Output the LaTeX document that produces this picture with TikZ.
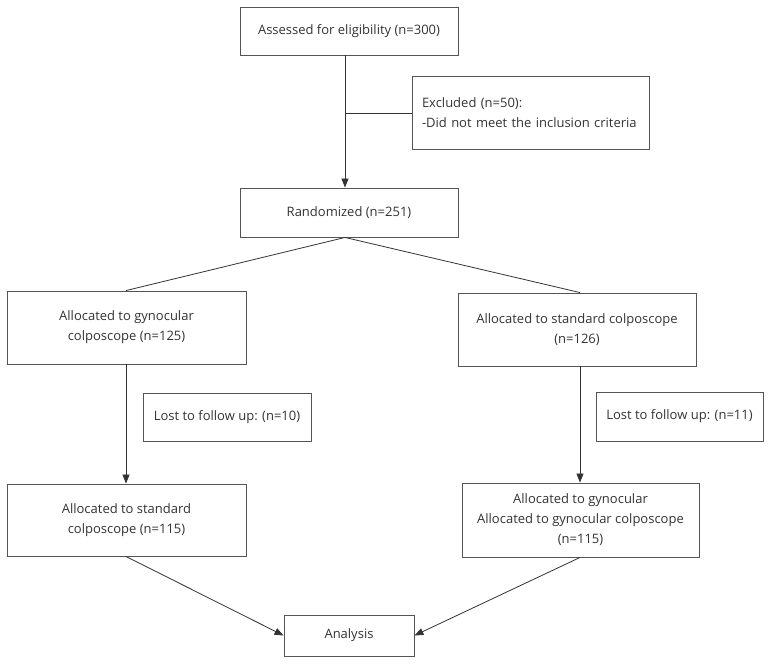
\documentclass[tikz,border=0pt]{standalone}
\usepackage{fontspec}
\setmainfont{Open Sans}
\usetikzlibrary{arrows.meta,calc}
\definecolor{txt}{HTML}{333333}
\definecolor{bord}{HTML}{555555}
\begin{document}
\begin{tikzpicture}[x=1pt,y=-1pt,
  box/.style={draw=bord,line width=0.9pt,rectangle,inner sep=0pt,text=txt,align=center,
    font=\fontsize{13}{20}\selectfont},
  conn/.style={draw=txt,line width=0.8pt},
  arr/.style={conn,-{Triangle[length=9pt,width=7pt]}}]
\useasboundingbox (0,0) rectangle (771,664);
\node[box,minimum width=218pt,minimum height=48pt] (A) at (349,31) {Assessed for eligibility (n=300)};
\node[box,minimum width=237pt,minimum height=73pt,align=left,text width=217pt] (E) at (530.5,112.5) {Excluded (n=50):\\-Did not meet the inclusion criteria};
\node[box,minimum width=218pt,minimum height=49pt] (R) at (349,212.5) {Randomized (n=251)};
\node[box,minimum width=239pt,minimum height=73pt] (L1) at (126.5,327.5) {Allocated to gynocular\\colposcope (n=125)};
\node[box,minimum width=238pt,minimum height=73pt] (R1) at (577,329.5) {Allocated to standard colposcope\\(n=126)};
\node[box,minimum width=168pt,minimum height=48pt] (LL) at (227,417) {Lost to follow up: (n=10)};
\node[box,minimum width=167pt,minimum height=49pt] (LR) at (679.5,416.5) {Lost to follow up: (n=11)};
\node[box,minimum width=239pt,minimum height=72pt] (L2) at (126.5,520) {Allocated to standard\\colposcope (n=115)};
\node[box,minimum width=237pt,minimum height=74pt] (R2) at (580.5,520) {Allocated to gynocular\\Allocated to gynocular colposcope\\(n=115)};
\node[box,minimum width=130pt,minimum height=41pt] (An) at (349,635.5) {Analysis};
\coordinate (j) at (345,113);
\coordinate (lx) at (126,0);
\coordinate (rx) at (580,0);
\draw[arr] (A.south -| j) -- (R.north -| j);
\draw[conn] (j) -- (E.west |- j);
\draw[conn] (R.south -| j) -- (L1.north -| lx);
\draw[conn] (R.south -| j) -- (R1.north -| rx);
\draw[arr] (L1.south -| lx) -- (L2.north -| lx);
\draw[arr] (R1.south -| rx) -- (R2.north -| rx);
\draw[arr] (L2.south -| lx) -- (An.west);
\draw[arr] (R2.south -| rx) -- (An.east);
\end{tikzpicture}
\end{document}
